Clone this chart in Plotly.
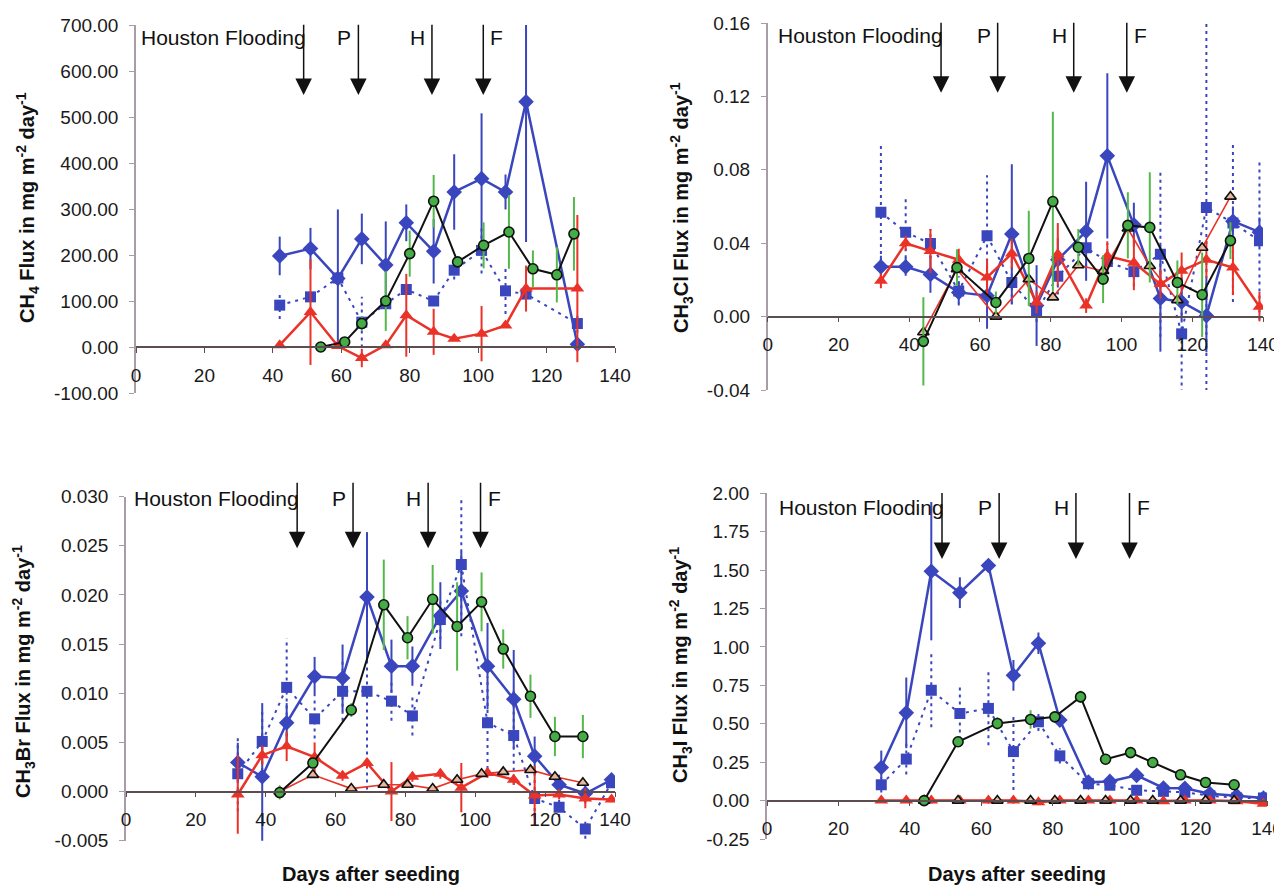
import plotly.graph_objects as go

# the page body has an 8px margin, so the figure is drawn 8px in from the corner
PAGE_OFF = 8
W, H = 1282 - PAGE_OFF, 885 - PAGE_OFF

# ---------------- data ----------------
event_days = [49, 65, 86.5, 101.5]
event_labels = ["Houston Flooding", "P", "H", "F"]
x_ticks = [0, 20, 40, 60, 80, 100, 120, 140]

# sampling days
days_a = [32, 39, 46, 54, 62, 69, 76, 82, 90, 96, 103.5, 111, 117, 124, 131.5, 139]
days_b = [44, 53.5, 64.5, 73.8, 80.6, 87.8, 94.8, 101.8, 108, 115.8, 122.8, 130.8]
ch4_days_a = [42, 51, 59, 66, 73, 79, 87, 93, 101, 108, 114, 129]
ch4_days_b = [54, 61, 66, 73, 80, 87, 94, 101.6, 109, 116, 123, 128]

# CH4 flux (mg m-2 day-1)
ch4_diamond = [198, 214, 149, 235, 178, 270, 208, 337, 366, 337, 533, 6]
ch4_diamond_err = [42, 45, 150, 55, 95, 40, 70, 82, 142, 38, 305, 0]
ch4_square = [91, 109, 150, 54, 94, 125, 100, 167, 210, 122, 115, 51]
ch4_square_err = [30, 10, 10, 55, 10, 10, 10, 20, 50, 50, 10, 20]
ch4_red = [4, 76, 2, -24, 4, 69, 33, 18, 29, 47, 127, 127]
ch4_red_err = [5, 115, 5, 20, 5, 90, 50, 5, 60, 5, 50, 160]
ch4_green = [0, 11, 51, 100, 203, 317, 185, 221, 250, 170, 157, 246]
ch4_green_err = [3, 3, 15, 65, 50, 57, 10, 50, 80, 40, 60, 80]

# CH3Cl flux
ch3cl_diamond = [0.0272, 0.0272, 0.023, 0.0132, 0.0114, 0.045, 0.006, 0.031,
                 0.0465, 0.0876, 0.050, 0.0099, 0.008, 0.0005, 0.052, 0.046]
ch3cl_diamond_err = [0.006, 0.005, 0.01, 0.006, 0.018, 0.038, 0.022, 0.012,
                     0.027, 0.045, 0.012, 0.029, 0.01, 0.02, 0.008, 0.008]
ch3cl_square = [0.0568, 0.046, 0.0398, 0.014, 0.044, 0.0186, 0.003, 0.022,
                0.0375, 0.03, 0.0245, 0.034, -0.0094, 0.0595, 0.051, 0.0414]
ch3cl_square_err = [0.038, 0.018, 0.008, 0.008, 0.033, 0.012, 0.006, 0.01,
                    0.01, 0.01, 0.008, 0.045, 0.032, 0.1, 0.043, 0.043]
ch3cl_red = [0.0195, 0.040, 0.0357, 0.031, 0.0213, 0.0344, 0.0077, 0.034,
             0.006, 0.033, 0.0294, 0.0177, 0.025, 0.031, 0.0267, 0.0054]
ch3cl_red_err = [0.004, 0.004, 0.012, 0.006, 0.01, 0.008, 0.006, 0.017,
                 0.004, 0.008, 0.015, 0.008, 0.01, 0.01, 0.015, 0.008]
ch3cl_green = [-0.0135, 0.0267, 0.0077, 0.0317, 0.0627, 0.0378, 0.0204, 0.0497,
               0.0486, 0.0186, 0.0119, 0.0414]
ch3cl_green_err = [0.024, 0.01, 0.006, 0.026, 0.049, 0.01, 0.013, 0.018,
                   0.03, 0.012, 0.023, 0.01]
ch3cl_open = [-0.0085, 0.0258, 0.0, 0.0204, 0.0105, 0.028, 0.0249, 0.048,
              0.0276, 0.009, 0.0375, 0.0654]

# CH3Br flux
ch3br_diamond = [0.00296, 0.0015, 0.0070, 0.0117, 0.01156, 0.0198, 0.01276, 0.01276,
                 0.0179, 0.0204, 0.01276, 0.0094, 0.0036, 0.0007, -0.0002, 0.0012]
ch3br_diamond_err = [0.002, 0.0075, 0.002, 0.002, 0.0034, 0.0066, 0.0027, 0.002,
                     0.0034, 0.004, 0.0044, 0.005, 0.002, 0.001, 0.001, 0.0005]
ch3br_square = [0.0018, 0.0051, 0.0106, 0.0074, 0.0102, 0.0102, 0.0092, 0.0077,
                0.0175, 0.0231, 0.0070, 0.0057, -0.0007, -0.0016, -0.0038, 0.0009]
ch3br_square_err = [0.0038, 0.003, 0.005, 0.002, 0.003, 0.01, 0.002, 0.002,
                    0.002, 0.0073, 0.0047, 0.005, 0.002, 0.001, 0.001, 0.0005]
ch3br_red = [-0.0003, 0.0037, 0.0046, 0.0035, 0.0016, 0.0029, 0.0, 0.0015,
             0.0018, 0.0004, 0.0019, 0.0012, -0.0004, -0.0003, -0.0007, -0.0008]
ch3br_red_err = [0.004, 0.001, 0.0015, 0.0015, 0.0005, 0.0005, 0.003, 0.0005,
                 0.0005, 0.0025, 0.0005, 0.0005, 0.003, 0.0005, 0.001, 0.0003]
ch3br_green = [-0.0001, 0.0029, 0.0083, 0.019, 0.01565, 0.01956, 0.0168, 0.0193,
               0.0145, 0.0097, 0.0056, 0.0056]
ch3br_green_err = [0.0007, 0.0005, 0.0007, 0.0046, 0.0022, 0.0035, 0.0045, 0.003,
                   0.002, 0.0022, 0.002, 0.0022]
ch3br_open = [0.0, 0.0017, 0.0003, 0.0007, 0.0007, 0.0003, 0.0012, 0.0018,
              0.002, 0.0022, 0.0015, 0.0009]

# CH3I flux
ch3i_diamond = [0.2155, 0.571, 1.493, 1.353, 1.53, 0.815, 1.024, 0.524,
                0.12, 0.125, 0.164, 0.082, 0.08, 0.045, 0.032, 0.017]
ch3i_diamond_err = [0.11, 0.23, 0.45, 0.1, 0.02, 0.1, 0.07, 0.02,
                    0.02, 0.02, 0.02, 0.03, 0.02, 0.02, 0.02, 0.01]
ch3i_square = [0.103, 0.27, 0.718, 0.567, 0.60, 0.319, 0.513, 0.291,
               0.11, 0.10, 0.067, 0.06, 0.054, 0.032, 0.017, 0.017]
ch3i_square_err = [0.05, 0.1, 0.24, 0.17, 0.24, 0.25, 0.06, 0.05,
                   0.02, 0.02, 0.02, 0.02, 0.02, 0.02, 0.02, 0.01]
ch3i_red = [0.0, 0.0, 0.0, 0.0, 0.0, 0.0, -0.01, 0.0,
            0.0, 0.0, 0.0, -0.005, 0.0, 0.0, -0.005, -0.02]
ch3i_red_err = [0.01, 0.01, 0.02, 0.02, 0.02, 0.02, 0.02, 0.02,
                0.01, 0.01, 0.01, 0.01, 0.01, 0.01, 0.01, 0.01]
ch3i_green = [0.0, 0.383, 0.502, 0.528, 0.545, 0.675, 0.269, 0.312,
              0.248, 0.168, 0.118, 0.103]
ch3i_green_err = [0.0, 0.02, 0.04, 0.06, 0.02, 0.04, 0.02, 0.02,
                  0.02, 0.02, 0.02, 0.02]
ch3i_open = [0.0, 0.0, 0.0, 0.0, 0.0, 0.0, 0.0, 0.0, 0.0, 0.0, 0.0, 0.0]

# ---------------- styles ----------------
FONT = "Arial, Liberation Sans, Helvetica, sans-serif"
BLUE = "#3a46bd"
RED = "#eb3228"
GREEN = "#45ad45"
GREEN_ERR = "#55b84a"
BLACK = "#111111"

# panel boxes are given in screen pixels (left, top, right, bottom of plot area)
panels = [
    dict(name="1", box=(136, 25, 615, 393), yrange=(-100, 700), dtick=100, fmt="{:.2f}",
         title="CH<sub>4</sub> Flux in mg m<sup>-2</sup> day<sup>-1</sup>", title_xy=(28, 208),
         xa=ch4_days_a, xb=ch4_days_b,
         diamond=(ch4_diamond, ch4_diamond_err), square=(ch4_square, ch4_square_err),
         red=(ch4_red, ch4_red_err), green=(ch4_green, ch4_green_err), open=None,
         arrow=(0.81, 1.005), text_y=0.965, xlabel=False),
    dict(name="2", box=(767.7, 23, 1263, 390), yrange=(-0.04, 0.16), dtick=0.04, fmt="{:.2f}",
         title="CH<sub>3</sub>Cl Flux in mg m<sup>-2</sup> day<sup>-1</sup>", title_xy=(682, 208),
         xa=days_a, xb=days_b,
         diamond=(ch3cl_diamond, ch3cl_diamond_err), square=(ch3cl_square, ch3cl_square_err),
         red=(ch3cl_red, ch3cl_red_err), green=(ch3cl_green, ch3cl_green_err), open=ch3cl_open,
         arrow=(0.81, 1.005), text_y=0.965, xlabel=False),
    dict(name="3", box=(126, 496.7, 615, 840.7), yrange=(-0.005, 0.030), dtick=0.005, fmt="{:.3f}",
         title="CH<sub>3</sub>Br Flux in mg m<sup>-2</sup> day<sup>-1</sup>", title_xy=(23, 672),
         xa=days_a, xb=days_b,
         diamond=(ch3br_diamond, ch3br_diamond_err), square=(ch3br_square, ch3br_square_err),
         red=(ch3br_red, ch3br_red_err), green=(ch3br_green, ch3br_green_err), open=ch3br_open,
         arrow=(0.85, 1.045), text_y=0.995, xlabel=True),
    dict(name="4", box=(767, 493.3, 1267, 839), yrange=(-0.25, 2.00), dtick=0.25, fmt="{:.2f}",
         title="CH<sub>3</sub>I Flux in mg m<sup>-2</sup> day<sup>-1</sup>", title_xy=(680, 665),
         xa=days_a, xb=days_b,
         diamond=(ch3i_diamond, ch3i_diamond_err), square=(ch3i_square, ch3i_square_err),
         red=(ch3i_red, ch3i_red_err), green=(ch3i_green, ch3i_green_err), open=ch3i_open,
         arrow=(0.81, 1.005), text_y=0.96, xlabel=True),
]
XLABEL_Y = 874


def px_x(v):
    return (v - PAGE_OFF) / W


def px_y(v):
    return 1 - (v - PAGE_OFF) / H


def err_segments(xs, ys, es):
    X, Y = [], []
    for x, y, e in zip(xs, ys, es):
        if e > 0:
            X += [x, x, None]
            Y += [y - e, y + e, None]
    return X, Y


fig = go.Figure()
annotations = []
layout_axes = {}

for p in panels:
    n = p["name"]
    xref = "x" if n == "1" else "x" + n
    yref = "y" if n == "1" else "y" + n
    x0, y0, x1, y1 = p["box"]
    ymin, ymax = p["yrange"]
    ydom = [max(0.0, px_y(y1)), px_y(y0)]
    xdom = [px_x(x0), px_x(x1)]
    zero_pos = ydom[0] + (0 - ymin) / (ymax - ymin) * (ydom[1] - ydom[0])

    def yfrac(f):
        return ymin + f * (ymax - ymin)

    nt = int(round((ymax - ymin) / p["dtick"]))
    yt = [ymin + i * p["dtick"] for i in range(nt + 1)]
    ytxt = [p["fmt"].format(v + 0.0) for v in yt]
    ytxt = [t[1:] if t in ("-0.00", "-0.000") else t for t in ytxt]

    xa_name = "xaxis" if n == "1" else "xaxis" + n
    ya_name = "yaxis" if n == "1" else "yaxis" + n
    layout_axes[xa_name] = dict(
        domain=xdom, range=[0, 140], anchor="free", position=zero_pos, automargin=False,
        showline=True, linecolor="#5b4d50", linewidth=1.5, showgrid=False, zeroline=False,
        ticks="outside", ticklen=5, tickcolor="#5b4d50", tickmode="array",
        tickvals=x_ticks, ticktext=[str(v) for v in x_ticks], ticklabelstandoff=6,
        ticklabeloverflow="allow",
        tickfont=dict(family=FONT, size=19, color="#1a1a1a"), fixedrange=True,
    )
    layout_axes[ya_name] = dict(
        domain=ydom, range=[ymin, ymax], anchor=xref, automargin=False,
        showline=True, linecolor="#aa9ca6", linewidth=1.5, showgrid=False, zeroline=False,
        ticks="outside", ticklen=5, tickcolor="#aa9ca6", tickmode="array",
        tickvals=yt, ticktext=ytxt, ticklabelstandoff=7,
        tickfont=dict(family=FONT, size=19, color="#1a1a1a"), fixedrange=True,
    )

    xa, xb = p["xa"], p["xb"]
    sq, sqe = p["square"]
    dm, dme = p["diamond"]
    rd, rde = p["red"]
    gr, gre = p["green"]

    ex, ey = err_segments(xa, sq, sqe)
    fig.add_trace(go.Scatter(x=ex, y=ey, mode="lines", xaxis=xref, yaxis=yref,
                             line=dict(color=BLUE, width=2, dash="3px,4px"),
                             showlegend=False, hoverinfo="skip"))
    fig.add_trace(go.Scatter(x=xa, y=sq, mode="lines+markers", xaxis=xref, yaxis=yref,
                             line=dict(color=BLUE, width=2, dash="3px,5px"),
                             marker=dict(symbol="square", size=11, color=BLUE),
                             showlegend=False))
    fig.add_trace(go.Scatter(x=xa, y=dm, mode="lines+markers", xaxis=xref, yaxis=yref,
                             line=dict(color=BLUE, width=2.5),
                             marker=dict(symbol="diamond", size=12, color=BLUE),
                             error_y=dict(type="data", array=dme, color=BLUE, thickness=2, width=0),
                             showlegend=False))
    fig.add_trace(go.Scatter(x=xa, y=rd, mode="lines+markers", xaxis=xref, yaxis=yref,
                             line=dict(color=RED, width=2.5),
                             marker=dict(symbol="triangle-up", size=12, color=RED),
                             error_y=dict(type="data", array=rde, color=RED, thickness=2, width=0),
                             showlegend=False))
    if p["open"] is not None:
        fig.add_trace(go.Scatter(x=xb, y=p["open"], mode="lines+markers", xaxis=xref, yaxis=yref,
                                 line=dict(color=RED, width=1.6),
                                 marker=dict(symbol="triangle-up", size=10, color="#e9b89c",
                                             line=dict(color=BLACK, width=1.6)),
                                 showlegend=False))
    fig.add_trace(go.Scatter(x=xb, y=gr, mode="lines+markers", xaxis=xref, yaxis=yref,
                             line=dict(color=BLACK, width=2),
                             marker=dict(symbol="circle", size=10, color=GREEN,
                                         line=dict(color=BLACK, width=1.6)),
                             error_y=dict(type="data", array=gre, color=GREEN_ERR, thickness=2, width=0),
                             showlegend=False))

    tip, top = p["arrow"]
    for d in event_days:
        annotations.append(dict(
            x=d, y=yfrac(tip), xref=xref, yref=yref,
            ax=d, ay=yfrac(top), axref=xref, ayref=yref,
            showarrow=True, arrowhead=2, arrowsize=2.2, arrowwidth=1.5, arrowcolor=BLACK,
            standoff=0, startstandoff=0, text=""))
    for i, (d, lab) in enumerate(zip(event_days, event_labels)):
        if lab == "F":
            anchor, shift = "left", 5
        elif i == 0:
            anchor, shift = "right", 4
        else:
            anchor, shift = "right", -5
        annotations.append(dict(
            x=d, y=yfrac(p["text_y"]), xref=xref, yref=yref, text=lab,
            showarrow=False, xanchor=anchor, yanchor="middle", xshift=shift,
            font=dict(family=FONT, size=21, color=BLACK)))

    tx, ty = p["title_xy"]
    annotations.append(dict(
        x=px_x(tx), y=px_y(ty), xref="paper", yref="paper", text=p["title"],
        textangle=-90, showarrow=False, xanchor="center", yanchor="middle",
        font=dict(family=FONT, size=20, color=BLACK, weight="bold")))
    if p["xlabel"]:
        annotations.append(dict(
            x=0.5, y=px_y(XLABEL_Y), xref=xref + " domain", yref="paper",
            text="Days after seeding", showarrow=False, xanchor="center", yanchor="middle",
            font=dict(family=FONT, size=20, color=BLACK, weight="bold")))

fig.update_layout(
    width=W, height=H, margin=dict(l=0, r=0, t=0, b=0, autoexpand=False),
    paper_bgcolor="white", plot_bgcolor="white",
    showlegend=False, annotations=annotations,
    font=dict(family=FONT),
    **layout_axes,
)

fig.write_html("out.html")
